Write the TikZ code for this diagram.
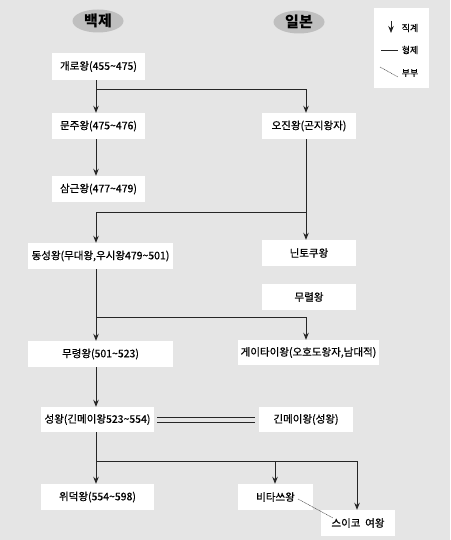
\documentclass[tikz,border=0pt]{standalone}
\usepackage{fontspec}
\setmainfont{Noto Sans CJK KR}
\newfontfamily\boxfont[FakeBold=0.6]{Noto Sans CJK KR}
\usetikzlibrary{arrows.meta,shapes.geometric}
\begin{document}
\begin{tikzpicture}[x=1pt,y=-1pt,
  box/.style={fill=white,inner sep=0pt,font=\boxfont\fontsize{10.5}{12}\selectfont},
  hdr/.style={ellipse,fill=black!25,minimum width=51pt,minimum height=23pt,inner sep=0pt,font=\fontsize{15}{16}\selectfont\bfseries},
  legtxt/.style={font=\boxfont\fontsize{9}{10}\selectfont},
  line/.style={draw=black!85,line width=0.9pt},
  arr/.style={line,-{Stealth[length=7pt,width=5.5pt]}},
  wife/.style={black!70,line width=0.5pt,dash pattern=on 1pt off 0.6pt}]
\fill[black!10] (0,0) rectangle (450,540);
\useasboundingbox (0,0) rectangle (450,540);
% headers
\node[hdr] (hb) at (98,21) {백제};
\node[hdr] (hi) at (299,22) {일본};
% legend
\node[fill=white,minimum width=55pt,minimum height=80pt,inner sep=0pt] (leg) at (401.5,48) {};
\coordinate (la1) at (391,21);
\coordinate (la2) at (391,33);
\draw[arr,line width=0.8pt] (la1) -- (la2);
\node[legtxt] (lt1) at (410,28) {직계};
\coordinate (lb1) at (381,50);
\coordinate (lb2) at (398,50);
\draw[line,line width=0.8pt] (lb1) -- (lb2);
\node[legtxt] (lt2) at (410,50) {형제};
\coordinate (lc1) at (380,67);
\coordinate (lc2) at (398,77);
\draw[wife] (lc1) -- (lc2);
\node[legtxt] (lt3) at (410,73) {부부};
% nodes
\node[box,minimum width=93pt,minimum height=27pt] (gaero) at (98.5,66.5) {개로왕(455\textasciitilde475)};
\node[box,minimum width=93pt,minimum height=26pt] (munju) at (98.5,126) {문주왕(475\textasciitilde476)};
\node[box,minimum width=94pt,minimum height=26pt] (ojin) at (309,126) {오진왕(곤지왕자)};
\node[box,minimum width=93pt,minimum height=26pt] (samgeun) at (98.5,189) {삼근왕(477\textasciitilde479)};
\node[box,minimum width=145pt,minimum height=26pt] (dongseong) at (100.5,256) {동성왕(무대왕,우시왕479\textasciitilde501)};
\node[box,minimum width=94pt,minimum height=26pt] (nintoku) at (309,253) {닌토쿠왕};
\node[box,minimum width=94pt,minimum height=26pt] (muryeol) at (309,297) {무렬왕};
\node[box,minimum width=145pt,minimum height=26pt] (muryeong) at (100.5,354) {무령왕(501\textasciitilde523)};
\node[box,minimum width=141pt,minimum height=25pt] (keitai) at (308.5,352.5) {게이타이왕(오호도왕자,남대적)};
\node[box,minimum width=113pt,minimum height=25pt] (seong) at (97.5,419.5) {성왕(긴메이왕523\textasciitilde554)};
\node[box,minimum width=94pt,minimum height=25pt] (kinmei) at (306,419.5) {긴메이왕(성왕)};
\node[box,minimum width=113pt,minimum height=26pt] (wideok) at (97.5,497) {위덕왕(554\textasciitilde598)};
\node[box,minimum width=75pt,minimum height=26pt] (bidatsu) at (275.5,497) {비타쓰왕};
\node[box,minimum width=74pt,minimum height=26pt] (suiko) at (358,523) {스이코\ \ 여왕};
% connectors
\coordinate (j1) at (96,89);
\coordinate (j1r) at (306,89);
\draw[arr] (gaero.south -| j1) -- (munju.north -| j1);
\draw[arr] (j1) -- (j1r) -- (ojin.north -| j1r);
\draw[arr] (munju.south -| j1) -- (samgeun.north -| j1);
\coordinate (j2) at (306,212);
\coordinate (j2l) at (96,212);
\draw[arr] (ojin.south -| j2) -- (nintoku.north -| j2);
\draw[arr] (j2) -- (j2l) -- (dongseong.north -| j2l);
\coordinate (j3) at (96,317);
\coordinate (j3r) at (306,317);
\draw[arr] (dongseong.south -| j3) -- (muryeong.north -| j3);
\draw[arr] (j3) -- (j3r) -- (keitai.north -| j3r);
\draw[arr] (muryeong.south -| j3) -- (seong.north -| j3);
\coordinate (d1) at (157,417);
\coordinate (d2) at (255,417);
\coordinate (d3) at (157,422);
\coordinate (d4) at (255,422);
\draw[line,line width=0.8pt] (d1) -- (d2);
\draw[line,line width=0.8pt] (d3) -- (d4);
\coordinate (j4) at (96,461);
\coordinate (j4m) at (275,461);
\coordinate (j4r) at (357,461);
\draw[arr] (seong.south -| j4) -- (wideok.north -| j4);
\draw[line] (j4) -- (j4r);
\draw[arr] (j4m) -- (bidatsu.north -| j4m);
\draw[arr] (j4r) -- (suiko.north -| j4r);
\coordinate (m1) at (298,499);
\coordinate (m2) at (333,518);
\draw[wife] (m1) -- (m2);
\end{tikzpicture}
\end{document}
